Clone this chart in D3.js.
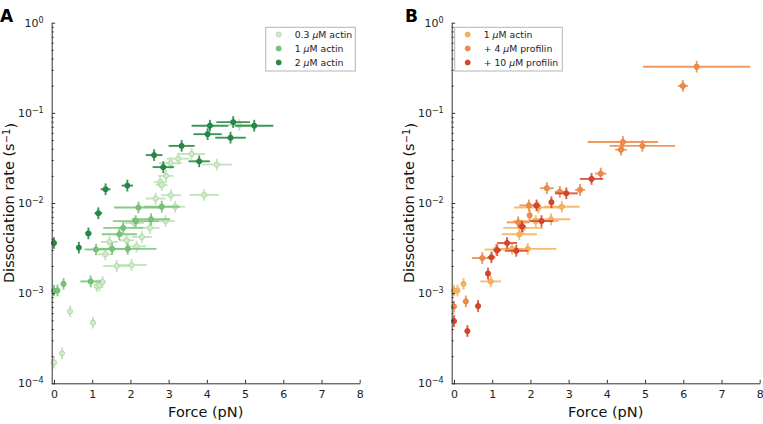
<!DOCTYPE html>
<html><head><meta charset="utf-8">
<script src="https://cdn.jsdelivr.net/npm/d3@7"></script>
<style>body{margin:0;background:#fff}svg{display:block;font-family:"DejaVu Sans",sans-serif}</style>
</head><body><svg id="c" width="763" height="424"></svg>
<script>
// ---------- DATA ----------
const xTicks = [0,1,2,3,4,5,6,7,8];
const yTicks = [1e-4,1e-3,1e-2,1e-1,1];
const yTickExp = ["-4","-3","-2","-1","0"];

// Panel A: 0.3 uM actin
const a03Force = [0,0.21,0.42,1.02,1.12,1.19,1.27,1.34,1.45,1.64,1.90,2.03,2.16,2.30,2.10,2.51,2.92,2.66,3.06,3.17,3.93,2.78,2.82,2.93,3.05,3.25,3.60,4.26,4.85];
const a03ForceErr = [0,0,0,0.05,0.05,0.05,0.08,0.2,0.22,0.35,0.2,0.4,0.25,0.26,0.25,0.25,0.24,0.26,0.26,0.26,0.39,0.17,0.15,0.2,0.3,0.3,0.35,0.39,0.3];
const a03Rate = [1.7e-4,2.15e-4,6.3e-4,4.7e-4,1.2e-3,1.22e-3,1.33e-3,2.7e-3,3.7e-3,2.0e-3,3.85e-3,2.05e-3,3.3e-3,4.2e-3,6.0e-3,5.3e-3,6.3e-3,1.12e-2,1.22e-2,9.1e-3,1.23e-2,1.7e-2,1.58e-2,2.0e-2,2.77e-2,3.1e-2,3.5e-2,2.67e-2,7.3e-2];
// Panel A & B: 1 uM actin
const a1Force = [0,0.09,0.25,0.96,1.10,1.52,1.93,1.71,1.81,2.14,2.54,2.21,2.82];
const a1ForceErr = [0,0,0,0.27,0.3,0.3,0.75,0.46,0.52,0.6,0.5,0.64,0.47];
const a1Rate = [1.07e-3,1.07e-3,1.27e-3,1.35e-3,3.05e-3,3.1e-3,3.1e-3,4.5e-3,5.3e-3,6.3e-3,6.6e-3,8.9e-3,9.1e-3];
// Panel A: 2 uM actin
const a2Force = [0,0.65,0.90,1.16,1.35,1.92,2.62,2.86,3.34,3.80,4.02,4.08,4.62,4.69,5.24];
const a2ForceErr = [0,0,0.08,0.1,0.13,0.15,0.22,0.28,0.34,0.28,0.37,0.48,0.4,0.44,0.5];
const a2Rate = [3.6e-3,3.2e-3,4.6e-3,7.7e-3,1.42e-2,1.56e-2,3.4e-2,2.5e-2,4.3e-2,2.9e-2,5.8e-2,7.2e-2,5.3e-2,7.9e-2,7.2e-2];
// Panel B: + 4 uM profilin
const p4Force = [0,0.31,0.74,1.68,1.96,1.98,2.43,2.77,3.30,3.84,4.37,4.42,4.93,5.99,6.35];
const p4ForceErr = [0,0,0.27,0.3,0.25,0,0.18,0.13,0.13,0.15,0.15,0.92,0.86,0.13,1.4];
const p4Rate = [7.1e-4,8.1e-4,2.45e-3,6.1e-3,9.4e-3,7.3e-3,1.46e-2,1.33e-2,1.4e-2,2.12e-2,3.9e-2,4.75e-2,4.3e-2,0.199,0.325];
// Panel B: + 10 uM profilin
const p10Force = [0,0.35,0.63,0.89,0.98,1.13,1.39,1.63,1.78,2.16,2.29,2.55,2.94,3.60];
const p10ForceErr = [0,0,0,0,0.1,0.1,0.26,0.3,0.1,0.1,0.3,0,0.3,0.3];
const p10Rate = [4.9e-4,3.8e-4,7.2e-4,1.65e-3,2.5e-3,3.0e-3,3.6e-3,2.95e-3,5.5e-3,9.4e-3,6.3e-3,1.02e-2,1.28e-2,1.85e-2];

const rateLogErr = 0.065; // half-width of vertical error bars (log10 units)

const panelA = [
  {pre:"0.3 ", post:"M actin", force:a03Force, ferr:a03ForceErr, rate:a03Rate, fill:"#d3ebcd", stroke:"#a6d49e", bar:"#bde2b6"},
  {pre:"1 ", post:"M actin", force:a1Force, ferr:a1ForceErr, rate:a1Rate, fill:"#77c479", stroke:"#64b766", bar:"#7cc67c"},
  {pre:"2 ", post:"M actin", force:a2Force, ferr:a2ForceErr, rate:a2Rate, fill:"#258a46", stroke:"#1f7d3e", bar:"#2a8c49"}
];
const panelB = [
  {pre:"1 ", post:"M actin", force:a1Force, ferr:a1ForceErr, rate:a1Rate, fill:"#f6b35f", stroke:"#eca552", bar:"#f7b562"},
  {pre:"+ 4 ", post:"M profilin", force:p4Force, ferr:p4ForceErr, rate:p4Rate, fill:"#ee8d4b", stroke:"#e07e3e", bar:"#f08e4c"},
  {pre:"+ 10 ", post:"M profilin", force:p10Force, ferr:p10ForceErr, rate:p10Rate, fill:"#d8452b", stroke:"#c93a22", bar:"#dc4a2d"}
];

const svg = d3.select("#c");
const axisColor = "#333";

function drawPanel(ox, series, letter, letterX, legendX, legendW) {
  const g = svg.append("g").attr("transform", `translate(${ox},0)`);
  const x = d3.scaleLinear().domain([-0.06, 8]).range([51.7, 359.7]);
  const y = d3.scaleLog().domain([1e-4, 1]).range([383.3, 22.7]);

  series.forEach(s => {
    const sg = g.append("g");
    s.force.forEach((f, i) => {
      const r = s.rate[i], fe = s.ferr[i];
      if (fe > 0) sg.append("line").attr("x1", x(f - fe)).attr("x2", x(f + fe))
        .attr("y1", y(r)).attr("y2", y(r)).attr("stroke", s.bar).attr("stroke-width", 1.9).attr("opacity", 0.9);
      sg.append("line").attr("x1", x(f)).attr("x2", x(f))
        .attr("y1", y(r * Math.pow(10, -rateLogErr))).attr("y2", y(r * Math.pow(10, rateLogErr)))
        .attr("stroke", s.bar).attr("stroke-width", 1.9).attr("opacity", 0.9);
    });
    s.force.forEach((f, i) => {
      sg.append("circle").attr("cx", x(f)).attr("cy", y(s.rate[i])).attr("r", 2.6)
        .attr("fill", s.fill).attr("stroke", s.stroke).attr("stroke-width", 0.8);
    });
  });

  const xAx = g.append("g").attr("transform", "translate(0,383.3)")
    .call(d3.axisBottom(x).tickValues(xTicks).tickSize(-3.5).tickSizeOuter(0).tickPadding(7).tickFormat(d3.format("d")));
  const minor = [];
  for (let e = -4; e < 0; e++) for (let m = 2; m <= 9; m++) minor.push(m * Math.pow(10, e));
  g.append("g").attr("transform", "translate(51.7,0)")
    .call(d3.axisLeft(y).tickValues(minor).tickSize(-2).tickSizeOuter(0).tickFormat(""))
    .call(a => a.select(".domain").remove());
  const yAx = g.append("g").attr("transform", "translate(51.7,0)")
    .call(d3.axisLeft(y).tickValues(yTicks).tickSize(-3.5).tickSizeOuter(0).tickPadding(8).tickFormat(""));
  yAx.selectAll(".tick").each(function(d, i) {
    const t = d3.select(this).append("text").attr("x", -8).attr("dy", "0.32em")
      .attr("text-anchor", "end").attr("fill", "#222").attr("font-size", 11);
    t.append("tspan").text("10");
    t.append("tspan").attr("dy", "-0.5em").attr("font-size", 8).text(yTickExp[i].replace("-", "\u2212"));
  });
  [xAx, yAx].forEach(a => {
    a.selectAll("text").attr("fill", "#222").attr("font-family", "DejaVu Sans");
    a.select(".domain").attr("stroke", axisColor).attr("stroke-width", 1);
  });
  xAx.selectAll("text").attr("font-size", 11);
  g.selectAll(".tick line").attr("stroke", axisColor);

  g.append("text").attr("x", 205.7).attr("y", 417).attr("text-anchor", "middle")
    .attr("font-size", 14.5).attr("fill", "#111").text("Force (pN)");
  const yl = g.append("text").attr("transform", "translate(14,203) rotate(-90)")
    .attr("text-anchor", "middle").attr("font-size", 14.5).attr("fill", "#111");
  yl.append("tspan").text("Dissociation rate (s");
  yl.append("tspan").attr("dy", "-0.45em").attr("font-size", 10).text("\u22121");
  yl.append("tspan").attr("dy", "0.45em").text(")");

  g.append("text").attr("x", letterX).attr("y", 22).attr("font-size", 17).attr("font-weight", "bold")
    .attr("fill", "#000").text(letter);

  const lg = g.append("g");
  lg.append("rect").attr("x", legendX).attr("y", 27.3).attr("width", legendW).attr("height", 43.7)
    .attr("fill", "#fff").attr("stroke", "#b5b5b5").attr("stroke-width", 1);
  series.forEach((s, i) => {
    const yy = 34.5 + i * 14;
    lg.append("circle").attr("cx", legendX + 13).attr("cy", yy).attr("r", 2.5)
      .attr("fill", s.fill).attr("stroke", s.stroke).attr("stroke-width", 0.8);
    const t = lg.append("text").attr("x", legendX + 29).attr("y", yy).attr("dy", "0.35em")
      .attr("font-size", 9.3).attr("fill", "#222");
    t.append("tspan").text(s.pre);
    t.append("tspan").attr("font-style", "italic").text("\u03BC");
    t.append("tspan").text(s.post);
  });
}

drawPanel(0, panelA, "A", 0, 265.7, 89.6);
drawPanel(400, panelB, "B", 5, 54.7, 107.6);
</script></body></html>
